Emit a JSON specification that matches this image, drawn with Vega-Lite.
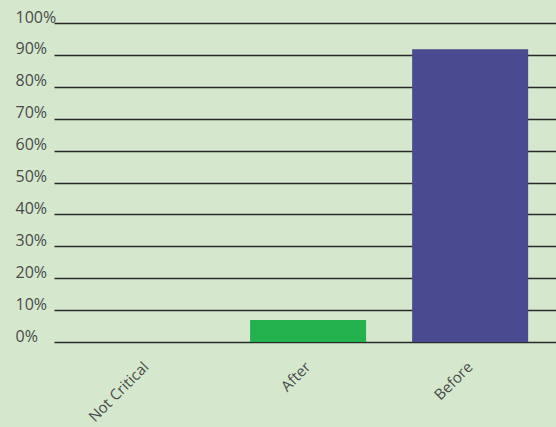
{
  "$schema": "https://vega.github.io/schema/vega-lite/v6.json",
  "width": 502,
  "height": 319,
  "autosize": {"type": "none"},
  "padding": {"left": 54, "top": 23, "right": 0, "bottom": 85},
  "background": "#d5e8ce",
  "config": {"view": {"stroke": null}},
  "data": {"values": [
    {"category": "Not Critical", "value": 0.0},
    {"category": "After", "value": 0.069},
    {"category": "Before", "value": 0.918}
  ]},
  "mark": {"type": "bar"},
  "encoding": {
    "x": {
      "field": "category", "type": "nominal", "sort": null,
      "scale": {"paddingInner": 0.284, "paddingOuter": 0.191, "align": 0.55},
      "axis": {
        "title": null, "domain": false, "ticks": false, "labelAngle": -45,
        "labelAlign": "right", "labelBaseline": "middle", "labelPadding": 22,
        "labelFont": "Open Sans", "labelFontSize": 15, "labelColor": "#4a4a4a"
      }
    },
    "y": {
      "field": "value", "type": "quantitative",
      "scale": {"domain": [0, 1], "nice": false},
      "axis": {
        "title": null, "domain": false, "ticks": false, "format": ".0%",
        "values": [0, 0.1, 0.2, 0.3, 0.4, 0.5, 0.6, 0.7, 0.8, 0.9, 1.0],
        "labelAlign": "left", "labelBaseline": "alphabetic", "labelOffset": -1,
        "labelPadding": 39, "labelFont": "Open Sans", "labelFontSize": 16,
        "labelColor": "#4a4a4a",
        "gridColor": "#2a2a2a", "gridWidth": 1.6, "gridOpacity": 1
      }
    },
    "color": {
      "field": "category", "type": "nominal", "legend": null,
      "scale": {"domain": ["Not Critical", "After", "Before"], "range": ["#22b14c", "#22b14c", "#4a4a90"]}
    }
  }
}
